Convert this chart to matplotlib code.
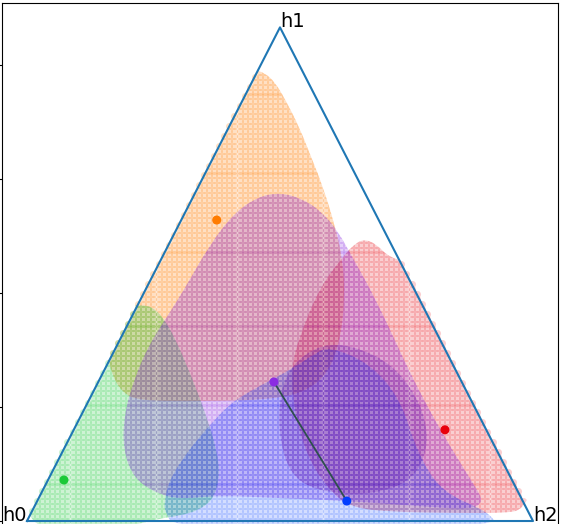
import numpy as np
import matplotlib
matplotlib.use("Agg")
import matplotlib.pyplot as plt
from matplotlib.path import Path
from matplotlib.patches import PathPatch

H = np.sqrt(3) / 2

# triangle corners (h0, h1, h2)
vertex_names = ["h0", "h1", "h2"]
vertex_x = [0.0, 0.5, 1.0]
vertex_y = [0.0, H, 0.0]

# region outlines (x, y in triangle coords)
orange_region = [(0.470, 0.786), (0.490, 0.770), (0.512, 0.737), (0.538, 0.691),
                 (0.561, 0.640), (0.585, 0.586), (0.607, 0.523), (0.624, 0.460),
                 (0.628, 0.388), (0.619, 0.318), (0.596, 0.260), (0.549, 0.226),
                 (0.480, 0.213), (0.350, 0.210), (0.220, 0.211), (0.188, 0.226),
                 (0.168, 0.256), (0.160, 0.290), (0.10, 0.30), (0.15, 0.50),
                 (0.30, 0.70), (0.42, 0.78), (0.448, 0.792)]
red_region = [(0.668, 0.494), (0.690, 0.486), (0.716, 0.462), (0.77, 0.45),
              (1.0, 0.06), (0.980, 0.021), (0.95, 0.014), (0.85, 0.014),
              (0.72, 0.016), (0.646, 0.023), (0.605, 0.046), (0.556, 0.107),
              (0.527, 0.195), (0.523, 0.270), (0.537, 0.320), (0.577, 0.407),
              (0.625, 0.465), (0.650, 0.488)]
green_region = [(0.237, 0.378), (0.252, 0.372), (0.268, 0.358), (0.292, 0.322),
                (0.324, 0.256), (0.354, 0.186), (0.375, 0.125), (0.381, 0.081),
                (0.370, 0.040), (0.340, 0.019), (0.300, 0.009), (0.260, 0.004),
                (0.20, -0.01), (-0.05, -0.02), (0.10, 0.30), (0.18, 0.38),
                (0.222, 0.378)]
purple_region = [(0.500, 0.576), (0.542, 0.566), (0.581, 0.544), (0.615, 0.508),
                 (0.644, 0.461), (0.690, 0.388), (0.745, 0.282), (0.789, 0.204),
                 (0.838, 0.128), (0.881, 0.067), (0.903, 0.034), (0.877, 0.020),
                 (0.777, 0.026), (0.638, 0.035), (0.506, 0.040), (0.375, 0.045),
                 (0.302, 0.038), (0.255, 0.049), (0.211, 0.075), (0.190, 0.125),
                 (0.192, 0.186), (0.211, 0.247), (0.241, 0.309), (0.275, 0.356),
                 (0.310, 0.405), (0.360, 0.483), (0.409, 0.540), (0.457, 0.569)]
blue_region = [(0.599, 0.306), (0.680, 0.275), (0.739, 0.212), (0.769, 0.125),
               (0.818, 0.051), (0.913, 0.016), (0.93, -0.01), (0.54, -0.01),
               (0.290, -0.01), (0.273, 0.016), (0.271, 0.032), (0.281, 0.072),
               (0.320, 0.125), (0.360, 0.167), (0.405, 0.209), (0.460, 0.237),
               (0.526, 0.268), (0.569, 0.294)]
violet_region = [(0.599, 0.312), (0.657, 0.303), (0.719, 0.276), (0.769, 0.222),
                 (0.793, 0.160), (0.785, 0.105), (0.749, 0.066), (0.688, 0.049),
                 (0.628, 0.047), (0.557, 0.058), (0.518, 0.088), (0.500, 0.142),
                 (0.498, 0.204), (0.512, 0.258), (0.549, 0.294)]

regions = [orange_region, red_region, green_region, purple_region, blue_region, violet_region]
region_colors = ["#ff7c00", "#e8000b", "#1ac938", "#8b2be2", "#023eff", "#6a1fb0"]
region_alpha = [0.23, 0.19, 0.21, 0.22, 0.17, 0.2]

# dots and the segment between purple and blue
point_x = [0.375, 0.826, 0.073, 0.488, 0.632]
point_y = [0.528, 0.160, 0.072, 0.244, 0.035]
point_colors = ["#ff7c00", "#e8000b", "#1ac938", "#8b2be2", "#023eff"]


def smooth_path(pts):
    # closed quadratic b-spline through the midpoints of the outline
    p = np.asarray(pts)
    mids = (p + np.roll(p, -1, axis=0)) / 2
    verts = [mids[-1]]
    codes = [Path.MOVETO]
    for i in range(len(p)):
        verts += [p[i], mids[i]]
        codes += [Path.CURVE3, Path.CURVE3]
    return Path(verts, codes)


fig = plt.figure(figsize=(5.62, 5.24), dpi=100)
ax = fig.add_axes([0.003, -0.0414, 0.9904, 1.0363])
ax.set_xlim(-0.05, 1.05)
ax.set_ylim(-0.05 * H, 1.05 * H)

# sampling grid inside the triangle
gx, gy = np.meshgrid(np.linspace(0, 1, 101), np.linspace(0, H, 101))
gx, gy = gx.ravel(), gy.ravel()
inside = (gy <= np.sqrt(3) * gx + 1e-9) & (gy <= np.sqrt(3) * (1 - gx) + 1e-9)
grid = np.column_stack([gx[inside], gy[inside]])

for outline, col, a in zip(regions, region_colors, region_alpha):
    clip = PathPatch(smooth_path(outline), transform=ax.transData)
    sc = ax.scatter(grid[:, 0], grid[:, 1], s=26, c=col, alpha=a, linewidths=0)
    sc.set_snap(False)
    sc.set_clip_path(clip)

ax.plot(vertex_x + [vertex_x[0]], vertex_y + [vertex_y[0]], color="#1f77b4", lw=1.5)

ax.plot(point_x[3:5], point_y[3:5], color="darkslategray", lw=1.3)
ax.scatter(point_x, point_y, c=point_colors, s=30, zorder=3)

ax.text(vertex_x[0], vertex_y[0], vertex_names[0], fontsize=14, ha="right", va="baseline")
ax.text(vertex_x[1], vertex_y[1], vertex_names[1], fontsize=14, ha="left", va="baseline")
ax.text(vertex_x[2], vertex_y[2], vertex_names[2], fontsize=14, ha="left", va="baseline")

ax.set_xticks([])
ax.set_yticks([0, 0.2, 0.4, 0.6, 0.8])
ax.set_yticklabels([])
fig.savefig("out.png", dpi=100)
